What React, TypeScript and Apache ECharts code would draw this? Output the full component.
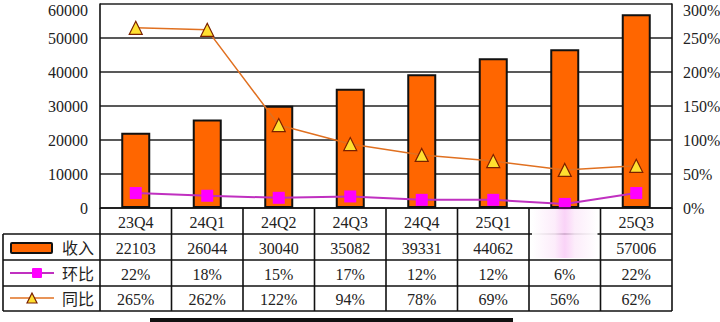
import React, { useEffect, useRef } from "react";
import * as echarts from "echarts";

const categories = ["23Q4", "24Q1", "24Q2", "24Q3", "24Q4", "25Q1", "25Q2", "25Q3"];
// category label / revenue cell obscured (blurred) in the source picture
const obscured = ["25Q2"];
const revenue = [22103, 26044, 30040, 35082, 39331, 44062, 46700, 57006];
const qoq = [22, 18, 15, 17, 12, 12, 6, 22];
const yoy = [265, 262, 122, 94, 78, 69, 56, 62];
const rowNames = ["收入", "环比", "同比"];
const leftTickValues = [0, 10000, 20000, 30000, 40000, 50000, 60000];
const rightTickValues = [0, 50, 100, 150, 200, 250, 300];

const GL = 100, GR = 672, GT = 4, GB = 208;
const ROWS = [208, 234, 260, 286, 311];
const SERIF = "Liberation Serif, DejaVu Serif, Noto Sans CJK SC, serif";
const TXT = "#222";

export default function App() {
  const ref = useRef<HTMLDivElement>(null);
  useEffect(() => {
    document.body.style.margin = "0";
    const chart = echarts.init(ref.current!, null, { renderer: "svg" });
    const colW = (GR - GL) / categories.length;
    const g: any[] = [];
    const line = (x1: number, y1: number, x2: number, y2: number, w = 1.6) =>
      g.push({ type: "line", shape: { x1, y1, x2, y2 }, style: { stroke: "#111", lineWidth: w }, z: 10 });
    const text = (x: number, y: number, t: string, align = "center", size = 16) =>
      g.push({
        type: "text", x, y, z: 11,
        style: { text: t, fontSize: size, fontFamily: SERIF, fill: TXT, align, verticalAlign: "middle" },
      });
    // table horizontal lines
    line(GL, ROWS[0], GR, ROWS[0]);
    for (let i = 1; i < ROWS.length; i++) line(3, ROWS[i], GR, ROWS[i]);
    // vertical lines
    line(3, ROWS[1], 3, ROWS[4]);
    line(GL, ROWS[0], GL, ROWS[4]);
    for (let i = 1; i <= categories.length; i++) line(GL + colW * i, ROWS[0], GL + colW * i, ROWS[4]);
    // cells
    categories.forEach((c, i) => {
      const cx = GL + colW * (i + 0.5);
      const hide = obscured.includes(c);
      if (!hide) text(cx, (ROWS[0] + ROWS[1]) / 2 + 1, c);
      if (!hide) text(cx, (ROWS[1] + ROWS[2]) / 2 + 1, String(revenue[i]));
      text(cx, (ROWS[2] + ROWS[3]) / 2 + 1, qoq[i] + "%");
      text(cx, (ROWS[3] + ROWS[4]) / 2 + 1, yoy[i] + "%");
    });
    // blurred patch over obscured column
    categories.forEach((c, i) => {
      if (!obscured.includes(c)) return;
      const x0 = GL + colW * i;
      g.push({
        type: "rect", z: 12,
        shape: { x: x0 + 3, y: ROWS[0] + 1, width: colW - 6, height: ROWS[2] - ROWS[0] - 3 },
        style: {
          fill: new echarts.graphic.LinearGradient(0, 0, 1, 0, [
            { offset: 0, color: "rgba(255,255,255,0.97)" },
            { offset: 0.35, color: "rgba(252,235,250,0.9)" },
            { offset: 0.5, color: "rgba(248,200,245,0.8)" },
            { offset: 0.65, color: "rgba(252,235,250,0.9)" },
            { offset: 1, color: "rgba(255,255,255,0.97)" },
          ]),
        },
      });
    });
    // row headers
    rowNames.forEach((n, r) => text(62, (ROWS[r + 1] + ROWS[r + 2]) / 2 + 1, n, "left", 16));
    // legend icons
    g.push({ type: "rect", z: 11, shape: { x: 11, y: 243, width: 41, height: 10, r: 1 }, style: { fill: "#FF6600", stroke: "#111", lineWidth: 2 } });
    g.push({ type: "line", z: 11, shape: { x1: 10, y1: 273, x2: 54, y2: 273 }, style: { stroke: "#C030C0", lineWidth: 2 } });
    g.push({ type: "rect", z: 12, shape: { x: 32, y: 268, width: 10, height: 10, r: 1 }, style: { fill: "#FF00FF" } });
    g.push({ type: "line", z: 11, shape: { x1: 10, y1: 298, x2: 54, y2: 298 }, style: { stroke: "#E07020", lineWidth: 1.5 } });
    g.push({ type: "polygon", z: 12, shape: { points: [[32, 293], [27, 303], [37, 303]] }, style: { fill: "#FFE030", stroke: "#7A2000", lineWidth: 1.2 } });
    // bottom black bar (cropped artifact)
    g.push({ type: "rect", z: 12, shape: { x: 150, y: 318, width: 363, height: 4 }, style: { fill: "#111" } });

    const interval = (a: number[]) => a[1] - a[0];
    chart.setOption({
      animation: false,
      backgroundColor: "#fff",
      grid: { left: GL, right: 720 - GR, top: GT, bottom: 322 - GB },
      xAxis: {
        type: "category", data: categories,
        axisLine: { show: false }, axisTick: { show: false }, axisLabel: { show: false },
      },
      yAxis: [
        {
          type: "value", min: leftTickValues[0], max: leftTickValues[leftTickValues.length - 1], interval: interval(leftTickValues),
          axisLine: { show: true, lineStyle: { color: "#111", width: 1.6 } },
          axisTick: { show: false },
          splitLine: { lineStyle: { color: "#222", width: 1.6 } },
          axisLabel: { show: false },
        },
        {
          type: "value", min: rightTickValues[0], max: rightTickValues[rightTickValues.length - 1], interval: interval(rightTickValues),
          axisLine: { show: true, lineStyle: { color: "#111", width: 1.6 } },
          axisTick: { show: false },
          splitLine: { show: false },
          axisLabel: { show: false },
        },
      ],
      series: [
        {
          type: "bar", data: revenue, barWidth: 29,
          itemStyle: { color: "#FF6600", borderColor: "#111", borderWidth: 2 },
          z: 2,
        },
        {
          type: "line", yAxisIndex: 1, data: yoy,
          symbol: "triangle", symbolSize: 13,
          lineStyle: { color: "#E07020", width: 1.5 },
          itemStyle: { color: "#FFE030", borderColor: "#7A2000", borderWidth: 1.2 },
          z: 4,
        },
        {
          type: "line", yAxisIndex: 1, data: qoq,
          symbol: "rect", symbolSize: 12,
          lineStyle: { color: "#C030C0", width: 2 },
          itemStyle: { color: "#FF00FF" },
          z: 5,
        },
      ],
    });
    // axis tick labels in serif, positioned through the axes' own scales
    leftTickValues.forEach((v) => {
      const y = chart.convertToPixel({ yAxisIndex: 0 }, v) as number;
      text(GL - 12, Math.max(y, 10), String(v), "right");
    });
    rightTickValues.forEach((v) => {
      const y = chart.convertToPixel({ yAxisIndex: 1 }, v) as number;
      text(GR + 11, Math.max(y, 10), v + "%", "left");
    });
    chart.setOption({ graphic: g });
    return () => chart.dispose();
  }, []);
  return <div ref={ref} style={{ width: 720, height: 322 }} />;
}
